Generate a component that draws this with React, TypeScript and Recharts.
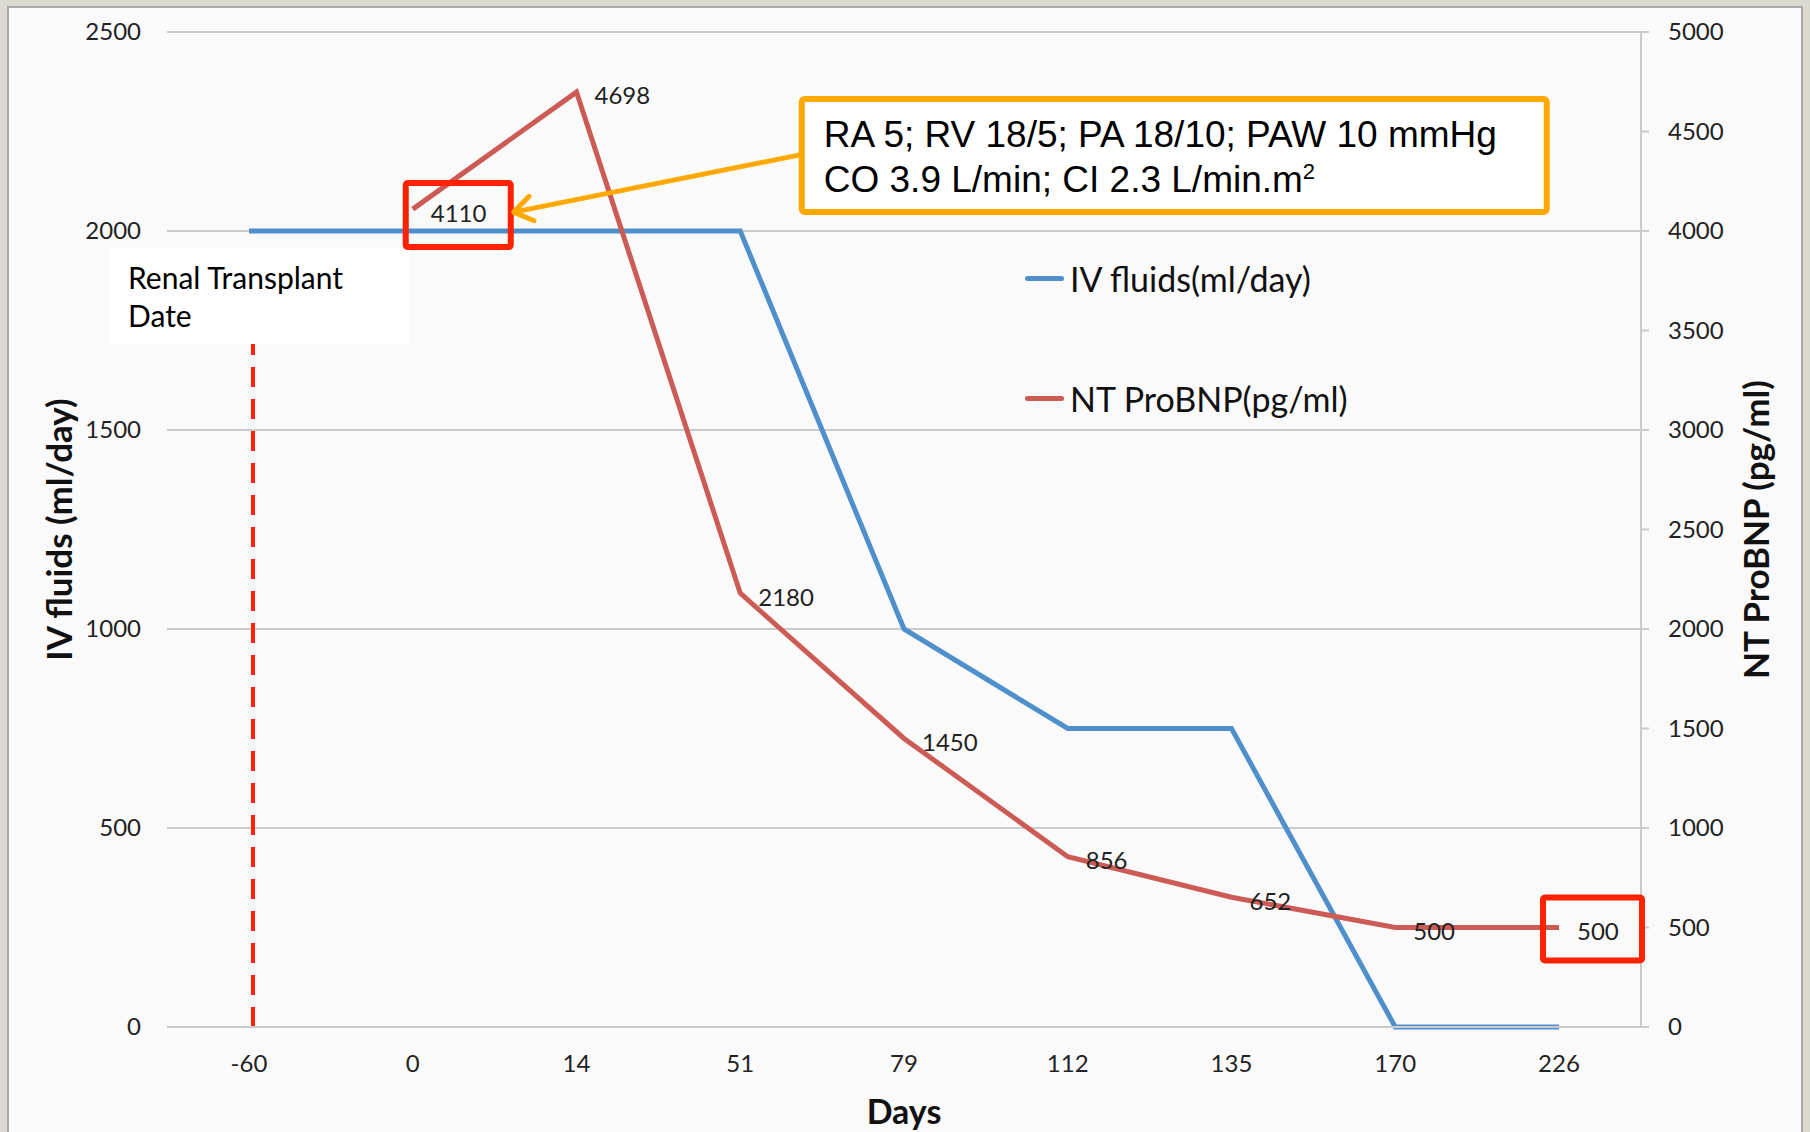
import {
  CartesianGrid,
  LabelList,
  Line,
  LineChart,
  ReferenceDot,
  ReferenceLine,
  XAxis,
  YAxis,
} from 'recharts';

const days = ['-60', '0', '14', '51', '79', '112', '135', '170', '226'];
const ivFluids = [2000, 2000, 2000, 2000, 1000, 750, 750, 0, 0];
const ntProBnp = [null, 4110, 4698, 2180, 1450, 856, 652, 500, 500];
const leftTicks = [0, 500, 1000, 1500, 2000, 2500];
const rightTicks = [0, 500, 1000, 1500, 2000, 2500, 3000, 3500, 4000, 4500, 5000];

const data = days.map((day, i) => ({ day, iv: ivFluids[i], bnp: ntProBnp[i] }));

const CALIBRI = 'Lato, "Open Sans", sans-serif';
const ARIAL = '"Liberation Sans", Arial, sans-serif';
const BLUE = '#4f8fcb';
const RED = '#cd5b55';
const ORANGE = '#ffa800';
const BOX_RED = '#ff2200';
const GRID = '#cbcbcb';

function LeftTick(props: any) {
  return (
    <text x={props.x} y={props.y} dy="0.35em" textAnchor="end" fontSize={24} fontFamily={CALIBRI} fill="#222">
      {props.payload.value}
    </text>
  );
}

function RightTick(props: any) {
  return (
    <text x={props.x} y={props.y} dy="0.35em" textAnchor="start" fontSize={24} fontFamily={CALIBRI} fill="#222">
      {props.payload.value}
    </text>
  );
}

function BottomTick(props: any) {
  return (
    <text x={props.x} y={props.y} dy="0.35em" textAnchor="middle" fontSize={24} fontFamily={CALIBRI} fill="#222">
      {props.payload.value}
    </text>
  );
}

function BnpLabel(props: any) {
  if (props.value == null) return null;
  return (
    <text x={props.x + 18} y={props.y + 4} dy="0.35em" fontSize={24} fontFamily={CALIBRI} fill="#222">
      {props.value}
    </text>
  );
}

function VerticalTitle({ viewBox, dx, text }: any) {
  const x = viewBox.x + dx;
  const y = viewBox.y + viewBox.height / 2;
  return (
    <text
      x={x}
      y={y}
      dy="0.35em"
      textAnchor="middle"
      transform={`rotate(-90, ${x}, ${y})`}
      fontSize={35}
      fontWeight="bold"
      fontFamily={CALIBRI}
      fill="#111"
    >
      {text}
    </text>
  );
}

function DaysTitle({ viewBox }: any) {
  return (
    <text
      x={viewBox.x + viewBox.width / 2}
      y={viewBox.y + 85}
      dy="0.35em"
      textAnchor="middle"
      fontSize={34}
      fontWeight="bold"
      fontFamily={CALIBRI}
      fill="#111"
    >
      Days
    </text>
  );
}

// dashed marker sits a touch right of the category centre in the original
function DashedMarker(props: any) {
  return (
    <line
      x1={props.x1 + 4}
      y1={props.y1}
      x2={props.x2 + 4}
      y2={props.y2}
      stroke={BOX_RED}
      strokeWidth={4}
      strokeDasharray="20 12"
    />
  );
}

// box + callout hung on the 4110 point
function CalloutShape({ cx, cy }: any) {
  const tipX = cx + 101;
  const tipY = cy + 3;
  const tailX = cx + 391;
  const tailY = cy - 55;
  const ang = Math.atan2(tailY - tipY, tailX - tipX);
  const wing = 22;
  const spread = 0.6;
  return (
    <g>
      <rect x={cx - 7} y={cy - 26} width={105} height={64} rx={2} fill="none" stroke={BOX_RED} strokeWidth={6} />
      <line x1={tailX} y1={tailY} x2={tipX} y2={tipY} stroke={ORANGE} strokeWidth={5} />
      <polyline
        points={`${tipX + wing * Math.cos(ang - spread)},${tipY + wing * Math.sin(ang - spread)} ${tipX},${tipY} ${tipX + wing * Math.cos(ang + spread)},${tipY + wing * Math.sin(ang + spread)}`}
        fill="none"
        stroke={ORANGE}
        strokeWidth={5}
        strokeLinecap="round"
        strokeLinejoin="round"
      />
      <rect x={cx + 389} y={cy - 110} width={745} height={113} rx={3} fill="#fff" stroke={ORANGE} strokeWidth={6} />
      <text x={cx + 411} y={cy - 62} fontSize={37} fontFamily={ARIAL} fill="#000">
        RA 5; RV 18/5; PA 18/10; PAW 10 mmHg
      </text>
      <text x={cx + 411} y={cy - 17} fontSize={37} fontFamily={ARIAL} fill="#000">
        CO 3.9 L/min; CI 2.3 L/min.m
        <tspan fontSize={22} dy={-13}>2</tspan>
      </text>
    </g>
  );
}

function LastBoxShape({ cx, cy }: any) {
  return <rect x={cx - 16} y={cy - 30} width={99} height={63} rx={2} fill="none" stroke={BOX_RED} strokeWidth={6} />;
}

function TransplantShape({ cx, cy }: any) {
  return (
    <g>
      <rect x={cx - 139} y={cy + 17} width={299} height={96} fill="#fff" />
      <text x={cx - 121} y={cy + 58} fontSize={30} fontFamily={CALIBRI} fill="#000">
        Renal Transplant
      </text>
      <text x={cx - 121} y={cy + 96} fontSize={30} fontFamily={CALIBRI} fill="#000">
        Date
      </text>
    </g>
  );
}

function LegendRow({ color, label, top }: { color: string; label: string; top: number }) {
  return (
    <div style={{ position: 'absolute', left: 1025, top, display: 'flex', alignItems: 'center', height: 44 }}>
      <div style={{ width: 39, height: 5, borderRadius: 3, background: color }} />
      <span style={{ fontFamily: CALIBRI, fontSize: 34, color: '#111', marginLeft: 6, whiteSpace: 'nowrap' }}>{label}</span>
    </div>
  );
}

export default function App() {
  return (
    <div style={{ position: 'absolute', left: 0, top: 0, width: 1810, height: 1132, background: '#dcd9d1', overflow: 'hidden' }}>
      <div
        style={{
          position: 'absolute',
          left: 7,
          top: 6,
          width: 1792,
          height: 1140,
          background: '#fafafa',
          border: '2px solid #a9a9a9',
        }}
      />
      <LineChart
        width={1810}
        height={1132}
        data={data}
        margin={{ top: 32, right: 0, bottom: 0, left: 0 }}
        style={{ position: 'absolute', left: 0, top: 0 }}
      >
        <CartesianGrid yAxisId="left" vertical={false} stroke={GRID} strokeWidth={2} />
        <XAxis
          dataKey="day"
          height={105}
          padding={{ left: 82, right: 82 }}
          axisLine={{ stroke: GRID, strokeWidth: 2 }}
          tickLine={false}
          tickSize={0}
          tickMargin={37}
          tick={<BottomTick />}
          interval={0}
          label={{ content: (p: any) => <DaysTitle viewBox={p.viewBox} /> }}
        />
        <YAxis
          yAxisId="left"
          width={167}
          domain={[0, 2500]}
          ticks={leftTicks}
          axisLine={false}
          tickLine={false}
          tickSize={0}
          tickMargin={26}
          tick={<LeftTick />}
          label={{ content: (p: any) => <VerticalTitle viewBox={p.viewBox} dx={60} text="IV fluids (ml/day)" /> }}
        />
        <YAxis
          yAxisId="right"
          orientation="right"
          width={169}
          domain={[0, 5000]}
          ticks={rightTicks}
          axisLine={{ stroke: GRID, strokeWidth: 2 }}
          tickLine={{ stroke: GRID, strokeWidth: 2 }}
          tickSize={8}
          tickMargin={19}
          tick={<RightTick />}
          label={{ content: (p: any) => <VerticalTitle viewBox={p.viewBox} dx={116} text="NT ProBNP (pg/ml)" /> }}
        />
        <ReferenceLine
          yAxisId="left"
          segment={[
            { x: '-60', y: 0 },
            { x: '-60', y: 1720 },
          ]}
          shape={<DashedMarker />}
        />
        <Line
          yAxisId="left"
          type="linear"
          dataKey="iv"
          stroke={BLUE}
          strokeWidth={5}
          dot={false}
          activeDot={false}
          isAnimationActive={false}
        />
        <Line
          yAxisId="right"
          type="linear"
          dataKey="bnp"
          stroke={RED}
          strokeWidth={5}
          dot={false}
          activeDot={false}
          connectNulls={false}
          isAnimationActive={false}
        >
          <LabelList dataKey="bnp" content={<BnpLabel />} />
        </Line>
        <ReferenceDot yAxisId="left" x="-60" y={2000} shape={<TransplantShape />} />
        <ReferenceDot yAxisId="right" x="0" y={4110} shape={<CalloutShape />} />
        <ReferenceDot yAxisId="right" x="226" y={500} shape={<LastBoxShape />} />
      </LineChart>
      <LegendRow color={BLUE} label="IV fluids(ml/day)" top={256} />
      <LegendRow color={RED} label="NT ProBNP(pg/ml)" top={376} />
    </div>
  );
}
